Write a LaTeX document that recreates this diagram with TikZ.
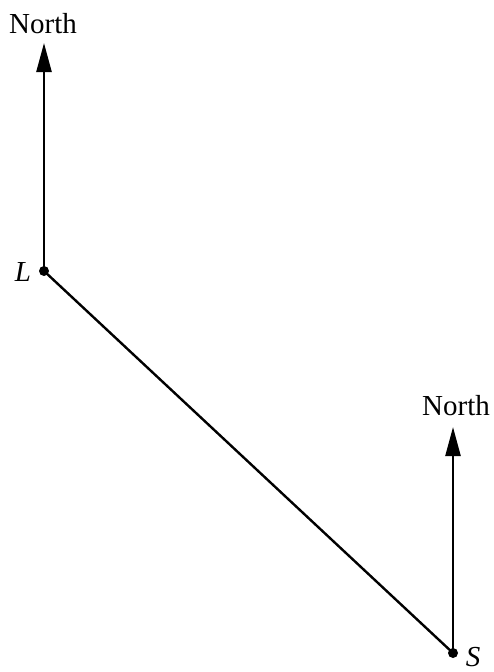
\documentclass[tikz,border=0pt]{standalone}
\usepackage{fontspec}
\setmainfont{Liberation Serif}
\usetikzlibrary{arrows.meta,positioning}

\begin{document}
\begin{tikzpicture}[x=1pt, y=-1pt,
    pt/.style={circle, fill=black, inner sep=0pt, minimum size=10pt},
    lbl/.style={inner sep=0pt, font=\fontsize{29}{34}\selectfont},
    arrow/.style={-{Triangle[length=29pt, width=15pt]}, line width=2.4pt},
    seg/.style={line width=2.4pt}
]
\useasboundingbox (0,0) rectangle (494,672);

% Points
\node[pt] (L) at (44,271) {};
\node[pt] (S) at (453,653) {};
\coordinate (Ltip) at (44,43);
\coordinate (Stip) at (453,427);

% Labels
\node[lbl] (Llabel) at (23,272) {\itshape L};
\node[lbl] (Slabel) at (473,657) {\itshape S};
\node[lbl] (northL) at (43,24) {North};
\node[lbl] (northS) at (456,406) {North};

% Lines
\draw[arrow] (L.center) -- (Ltip);
\draw[arrow] (S.center) -- (Stip);
\draw[seg] (L.center) -- (S.center);

\end{tikzpicture}
\end{document}
